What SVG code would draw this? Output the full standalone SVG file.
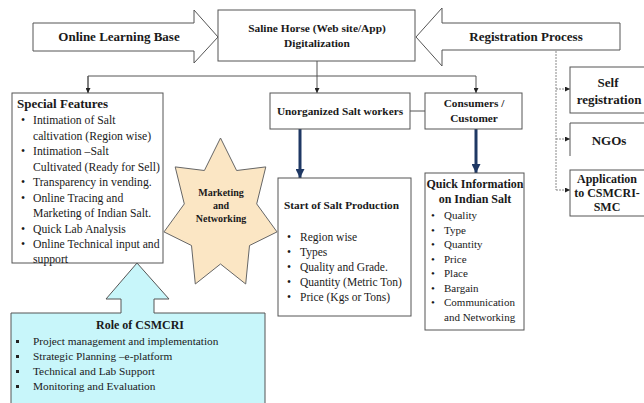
<svg xmlns="http://www.w3.org/2000/svg" width="644" height="403" viewBox="0 0 644 403">
<defs>
<style>
text{font-family:"Liberation Serif","Times New Roman",serif;fill:#1a1a1a}
.b{font-weight:bold}
.box{fill:#fff;stroke:#555;stroke-width:1}
.ln{fill:none;stroke:#555;stroke-width:1}
.dot{fill:none;stroke:#888;stroke-width:1;stroke-dasharray:2 1}
.thick{fill:none;stroke:#1f3864;stroke-width:3}
.t13{font-size:13px}
.t12{font-size:12px}
.t11{font-size:11.5px}
.t10{font-size:10px}
.mid{text-anchor:middle}
</style>
<marker id="ah" viewBox="0 0 6 6" refX="6" refY="3" markerWidth="5" markerHeight="5" markerUnits="userSpaceOnUse" orient="auto"><path d="M0,0 L6,3 L0,6 Z" fill="#222"/></marker>
<marker id="ahb" viewBox="0 0 6 6" refX="6" refY="3" markerWidth="3" markerHeight="3" orient="auto"><path d="M0,0 L6,3 L0,6 Z" fill="#1f3864"/></marker>
</defs>
<rect width="644" height="403" fill="#fff"/>

<g id="connectors">
<polyline class="ln" points="317,61 317,93" marker-end="url(#ah)"/>
<polyline class="ln" points="88,93 88,76 476,76 476,93" marker-end="url(#ah)"/>
<line class="ln" x1="88" y1="76" x2="88" y2="93" marker-end="url(#ah)"/>
<line class="ln" x1="410" y1="111" x2="425" y2="111"/>
<line class="thick" x1="300" y1="129" x2="300" y2="178" marker-end="url(#ahb)"/>
<line class="thick" x1="476" y1="129" x2="476" y2="173" marker-end="url(#ahb)"/>
<line class="dot" x1="556" y1="51" x2="556" y2="190"/>
<line class="dot" x1="556" y1="89" x2="570" y2="89" marker-end="url(#ah)"/>
<line class="dot" x1="556" y1="139" x2="570" y2="139" marker-end="url(#ah)"/>
<line class="dot" x1="556" y1="190" x2="570" y2="190" marker-end="url(#ah)"/>
</g>

<g id="online-learning-base">
<polygon class="box" points="33,23 194,23 194,10 218,37 194,63 194,51 33,51"/>
<text class="b t13 mid" x="119" y="41">Online Learning Base</text>
</g>

<g id="saline-horse">
<rect class="box" x="218" y="10" width="197" height="51"/>
<text class="b mid" style="font-size:11.4px" x="317" y="32">Saline Horse (Web site/App)</text>
<text class="b mid" style="font-size:11.4px" x="317" y="47">Digitalization</text>
</g>

<g id="registration-process">
<polygon class="box" points="620,23 442,23 442,8 416,37 442,66 442,50 620,50"/>
<text class="b t13 mid" x="526" y="41">Registration Process</text>
</g>

<g id="self-registration">
<rect class="box" x="570" y="67" width="80" height="46"/>
<text class="b t13 mid" x="608" y="87">Self</text>
<text class="b t13 mid" x="609" y="104">registration</text>
</g>

<g id="ngos">
<path class="ln" d="M570,156 L570,123 L650,123"/>
<text class="b t13 mid" x="609" y="145">NGOs</text>
</g>

<g id="application">
<rect class="box" x="570" y="170" width="80" height="46"/>
<text class="b t12 mid" x="607" y="183">Application</text>
<text class="b t12 mid" x="607" y="197">to CSMCRI-</text>
<text class="b t12 mid" x="607" y="211">SMC</text>
</g>

<g id="special-features">
<rect class="box" x="12" y="93" width="151" height="170"/>
<text class="b t13" x="17" y="108">Special Features</text>
<g style="font-size:11.7px">
<text x="21" y="124">•</text><text x="33" y="124">Intimation of Salt</text>
<text x="33" y="139.5">caltivation (Region wise)</text>
<text x="21" y="155">•</text><text x="33" y="155">Intimation –Salt</text>
<text x="33" y="170.5">Cultivated (Ready for Sell)</text>
<text x="21" y="186">•</text><text x="33" y="186">Transparency in vending.</text>
<text x="21" y="201.5">•</text><text x="33" y="201.5">Online Tracing and</text>
<text x="33" y="217">Marketing of Indian Salt.</text>
<text x="21" y="232.5">•</text><text x="33" y="232.5">Quick Lab Analysis</text>
<text x="21" y="248">•</text><text x="33" y="248">Online Technical input and</text>
<text x="33" y="263">support</text>
</g>
</g>

<g id="marketing-networking">
<path d="M220.5,138 L236.6,170.5 L265.8,166.9 L256.7,203.9 L277,231.9 L249.5,245.5 L245.7,284 L220.5,264 L195.3,284 L191.5,245.5 L164,231.9 L184.3,203.9 L175.2,166.9 L204.4,170.5 Z" fill="#fbe6c4" stroke="#666" stroke-width="1"/>
<text class="b t10 mid" x="221" y="196">Marketing</text>
<text class="b t10 mid" x="221" y="209">and</text>
<text class="b t10 mid" x="221" y="222">Networking</text>
</g>

<g id="unorganized-salt-workers">
<rect class="box" x="270" y="93" width="140" height="36"/>
<text class="b mid" style="font-size:11.3px" x="340" y="115">Unorganized Salt workers</text>
</g>

<g id="consumers">
<rect class="box" x="425" y="93" width="97" height="36"/>
<text class="b mid" style="font-size:11.3px" x="474" y="107">Consumers /</text>
<text class="b mid" style="font-size:11.3px" x="474" y="122">Customer</text>
</g>

<g id="start-salt-production">
<rect class="box" x="278" y="178" width="133" height="138"/>
<text class="b" style="font-size:11.3px" x="284" y="209">Start of Salt Production</text>
<g class="t11">
<text x="287" y="241">•</text><text x="300" y="241">Region wise</text>
<text x="287" y="256">•</text><text x="300" y="256">Types</text>
<text x="287" y="271">•</text><text x="300" y="271">Quality and Grade.</text>
<text x="287" y="286">•</text><text x="300" y="286">Quantity (Metric Ton)</text>
<text x="287" y="301">•</text><text x="300" y="301">Price (Kgs or Tons)</text>
</g>
</g>

<g id="quick-information">
<rect class="box" x="425" y="173" width="99" height="157"/>
<text class="b t12 mid" x="475" y="188">Quick Information</text>
<text class="b t12 mid" x="475" y="203">on Indian Salt</text>
<g style="font-size:11px">
<text x="431" y="219">•</text><text x="444" y="219">Quality</text>
<text x="431" y="233.5">•</text><text x="444" y="233.5">Type</text>
<text x="431" y="248">•</text><text x="444" y="248">Quantity</text>
<text x="431" y="262.5">•</text><text x="444" y="262.5">Price</text>
<text x="431" y="277">•</text><text x="444" y="277">Place</text>
<text x="431" y="291.5">•</text><text x="444" y="291.5">Bargain</text>
<text x="431" y="306">•</text><text x="444" y="306">Communication</text>
<text x="444" y="320.5">and Networking</text>
</g>
</g>

<g id="role-of-csmcri">
<polygon points="137,263 169,299 154,299 154,313 265,313 265,410 11,410 11,313 121,313 121,299 106,299" fill="#c8f6fa" stroke="#555" stroke-width="1"/>
<text class="b t12 mid" x="140" y="329">Role of CSMCRI</text>
<g style="font-size:11.3px">
<rect x="16" y="340" width="3" height="3" fill="#222"/><text x="33" y="345">Project management and implementation</text>
<rect x="16" y="355" width="3" height="3" fill="#222"/><text x="33" y="360">Strategic Planning –e-platform</text>
<rect x="16" y="370" width="3" height="3" fill="#222"/><text x="33" y="375">Technical and Lab Support</text>
<rect x="16" y="385" width="3" height="3" fill="#222"/><text x="33" y="390">Monitoring and Evaluation</text>
</g>
</g>
</svg>
